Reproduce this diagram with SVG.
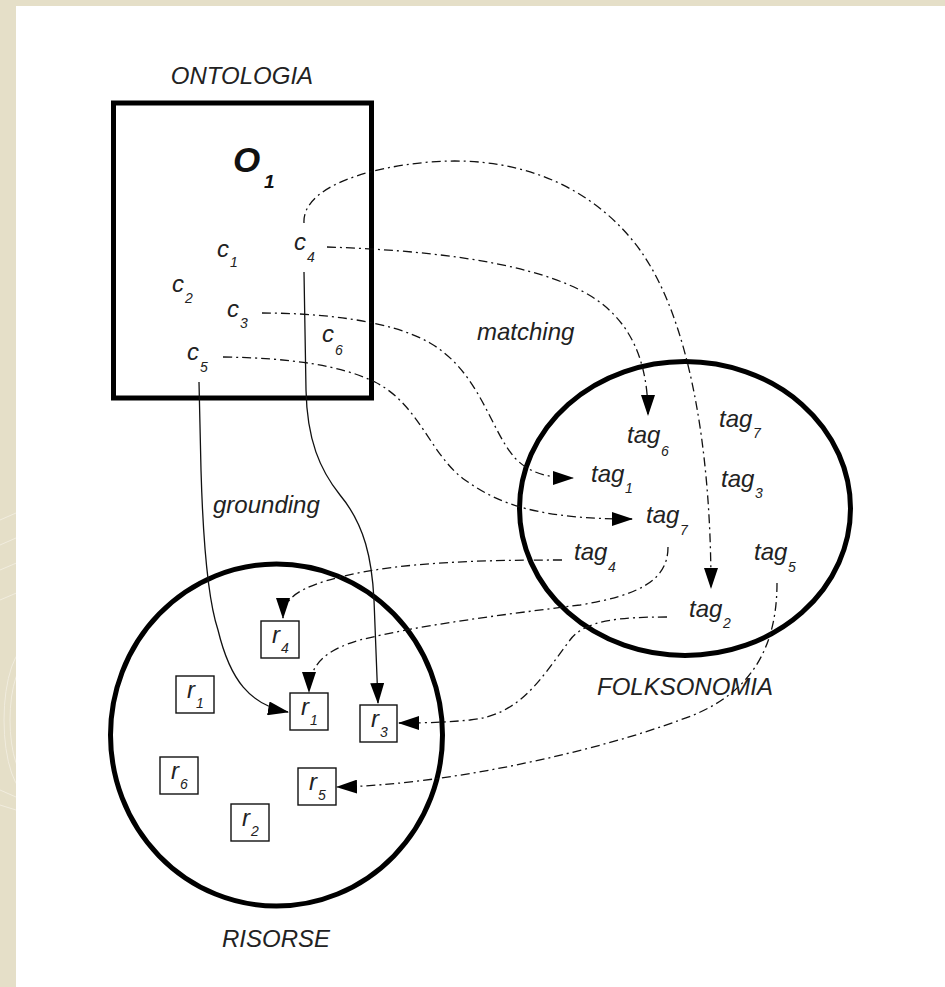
<svg xmlns="http://www.w3.org/2000/svg" width="945" height="987" viewBox="0 0 945 987">
  <style>
    .lbl { font-family: "Liberation Sans", Arial, sans-serif; font-style: italic; font-size: 24px; fill: #222; }
    .sub { font-size: 14px; }
    .o1 { font-family: "Liberation Sans", Arial, sans-serif; font-style: italic; font-weight: bold; fill: #111; }
    .frame { fill: none; stroke: #000; stroke-width: 5; }
    .rbox { fill: #fff; stroke: #111; stroke-width: 1.4; }
    .match { fill: none; stroke: #111; stroke-width: 1.3; stroke-dasharray: 9 4 2 4; marker-end: url(#ah); }
    .ground { fill: none; stroke: #111; stroke-width: 1.3; marker-end: url(#ah); }
  </style>
  <defs>
    <marker id="ah" markerWidth="22" markerHeight="14" refX="20" refY="7" orient="auto" markerUnits="userSpaceOnUse">
      <path d="M0,0 L21,7 L0,14 z" fill="#000"/>
    </marker>
    <clipPath id="strip"><rect x="0" y="0" width="16" height="987"/></clipPath>
  </defs>

  <!-- page background -->
  <rect x="0" y="0" width="945" height="987" fill="#e5dfc8"/>
  <g clip-path="url(#strip)" fill="none" stroke="#f4f0e4" stroke-width="1" opacity="0.8">
    <path d="M0,520 Q20,510 40,505"/>
    <path d="M0,545 Q20,535 40,530"/>
    <path d="M0,570 Q20,560 40,556"/>
    <path d="M0,600 Q20,590 40,586"/>
    <ellipse cx="30" cy="720" rx="20" ry="60"/>
    <ellipse cx="30" cy="720" rx="26" ry="75"/>
    <path d="M0,790 Q20,800 40,805"/>
    <path d="M0,805 Q20,812 40,816"/>
  </g>
  <rect x="16" y="6" width="929" height="981" fill="#fff"/>

  <!-- ontology -->
  <g id="ontologia">
    <text class="lbl" x="242" y="84" text-anchor="middle">ONTOLOGIA</text>
    <rect class="frame" x="113.5" y="103" width="258" height="295"/>
    <text class="o1" x="233" y="172" font-size="35">O<tspan x="264" y="188" font-size="19">1</tspan></text>
  </g>
  <g id="c1"><text class="lbl" x="217" y="257">c<tspan class="sub" x="230" y="267">1</tspan></text></g>
  <g id="c2"><text class="lbl" x="172" y="292">c<tspan class="sub" x="185" y="303">2</tspan></text></g>
  <g id="c3"><text class="lbl" x="227" y="317">c<tspan class="sub" x="240" y="328">3</tspan></text></g>
  <g id="c4"><text class="lbl" x="294" y="250">c<tspan class="sub" x="307" y="262">4</tspan></text></g>
  <g id="c5"><text class="lbl" x="187" y="360">c<tspan class="sub" x="200" y="372">5</tspan></text></g>
  <g id="c6"><text class="lbl" x="322" y="342">c<tspan class="sub" x="335" y="355">6</tspan></text></g>

  <!-- folksonomy -->
  <g id="folksonomia">
    <ellipse class="frame" cx="685" cy="508.5" rx="165.5" ry="147"/>
    <text class="lbl" x="597" y="695">FOLKSONOMIA</text>
  </g>
  <g id="tag6"><text class="lbl" x="627" y="443">tag<tspan class="sub" x="661" y="456">6</tspan></text></g>
  <g id="tag7a"><text class="lbl" x="719" y="427">tag<tspan class="sub" x="753" y="438">7</tspan></text></g>
  <g id="tag1"><text class="lbl" x="591" y="482">tag<tspan class="sub" x="625" y="493">1</tspan></text></g>
  <g id="tag3"><text class="lbl" x="721" y="487">tag<tspan class="sub" x="755" y="498">3</tspan></text></g>
  <g id="tag7b"><text class="lbl" x="646" y="523">tag<tspan class="sub" x="680" y="535">7</tspan></text></g>
  <g id="tag4"><text class="lbl" x="574" y="560">tag<tspan class="sub" x="608" y="572">4</tspan></text></g>
  <g id="tag5"><text class="lbl" x="754" y="560">tag<tspan class="sub" x="788" y="572">5</tspan></text></g>
  <g id="tag2"><text class="lbl" x="689" y="617">tag<tspan class="sub" x="723" y="628">2</tspan></text></g>

  <!-- resources -->
  <g id="risorse">
    <ellipse class="frame" cx="276.5" cy="735" rx="166" ry="171"/>
    <text class="lbl" x="276" y="947" text-anchor="middle">RISORSE</text>
  </g>
  <g id="r4"><rect class="rbox" x="261" y="621" width="38" height="37"/><text class="lbl" x="272" y="643">r<tspan class="sub" x="281" y="653">4</tspan></text></g>
  <g id="r1a"><rect class="rbox" x="176" y="676" width="38" height="37"/><text class="lbl" x="187" y="698">r<tspan class="sub" x="196" y="708">1</tspan></text></g>
  <g id="r1b"><rect class="rbox" x="290" y="693" width="38" height="37"/><text class="lbl" x="301" y="715">r<tspan class="sub" x="310" y="725">1</tspan></text></g>
  <g id="r3"><rect class="rbox" x="360" y="705" width="37" height="37"/><text class="lbl" x="371" y="727">r<tspan class="sub" x="380" y="737">3</tspan></text></g>
  <g id="r6"><rect class="rbox" x="160" y="757" width="38" height="37"/><text class="lbl" x="171" y="779">r<tspan class="sub" x="180" y="789">6</tspan></text></g>
  <g id="r5"><rect class="rbox" x="298" y="768" width="38" height="37"/><text class="lbl" x="309" y="790">r<tspan class="sub" x="318" y="800">5</tspan></text></g>
  <g id="r2"><rect class="rbox" x="231" y="804" width="38" height="37"/><text class="lbl" x="242" y="826">r<tspan class="sub" x="251" y="836">2</tspan></text></g>

  <!-- edge labels -->
  <text class="lbl" x="477" y="340">matching</text>
  <text class="lbl" x="213" y="513">grounding</text>

  <!-- connectors -->
  <g id="connectors">
    <!-- matching: concepts to tags -->
    <path class="match" d="M304,223 C302,190 360,168 430,162 C530,154 600,195 640,250 C690,320 711,450 711,588"/>
    <path class="match" d="M327,247 C420,250 520,260 580,290 C630,315 648,360 648,415"/>
    <path class="match" d="M262,313 C320,313 390,320 430,343 C480,372 490,430 515,458 C530,474 550,478 573,478"/>
    <path class="match" d="M223,357 C290,358 340,365 375,382 C420,405 430,455 465,480 C500,505 540,519 632,519"/>
    <!-- tags to resources -->
    <path class="match" d="M562,560 C480,560 400,562 340,577 C300,587 283,598 283,618"/>
    <path class="match" d="M668,547 C668,580 640,595 580,605 C500,615 420,625 360,640 C325,650 309,665 309,692"/>
    <path class="match" d="M667,617 C620,617 585,620 570,640 C540,680 520,715 470,720 C450,722 430,723 399,723"/>
    <path class="match" d="M777,583 C777,660 740,700 680,720 C600,750 450,785 337,787"/>
    <!-- grounding: concepts to resources -->
    <path class="ground" d="M199,382 L201,470 C203,540 208,600 218,630 C230,680 250,705 288,712"/>
    <path class="ground" d="M304,272 L306,390 C307,440 320,470 340,495 C365,525 372,560 374,600 L378,703"/>
  </g>
</svg>
